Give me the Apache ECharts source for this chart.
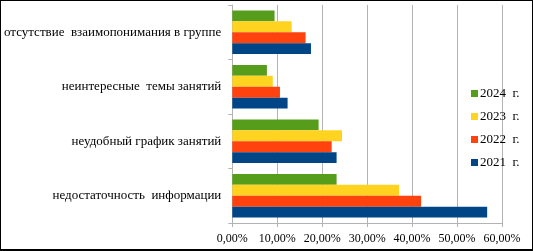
<!DOCTYPE html>
<html>
<head>
<meta charset="utf-8">
<script src="https://cdn.jsdelivr.net/npm/echarts@6/dist/echarts.min.js"></script>
<style>
  html, body { margin: 0; padding: 0; background: #fff; }
  #chart { width: 533px; height: 251px; box-sizing: border-box; border: 1px solid #000; border-bottom-width: 2px; }
</style>
</head>
<body>
<div id="chart"></div>
<script>
// categories bottom to top
const categories = [
  'недостаточность  информации',
  'неудобный график занятий',
  'неинтересные  темы занятий',
  'отсутствие  взаимопонимания в группе'
];
const years = ['2024  г.', '2023  г.', '2022  г.', '2021  г.'];
const values2024 = [23.2, 19.2, 7.7, 9.4];
const values2023 = [37.1, 24.4, 9.0, 13.2];
const values2022 = [42.0, 22.1, 10.6, 16.3];
const values2021 = [56.7, 23.2, 12.3, 17.5];
const COLORS = ['#579d1c', '#ffd320', '#ff420e', '#004586'];

const chart = echarts.init(document.getElementById('chart'));
const font = '"Liberation Serif", "Times New Roman", serif';

const seriesData = [values2024, values2023, values2022, values2021];
const series = seriesData.map((data, i) => ({
  name: years[i],
  type: 'bar',
  data: data,
  barGap: '0%',
  barCategoryGap: '20%',
  itemStyle: { color: COLORS[i] },
}));

chart.setOption({
  animation: false,
  textStyle: { fontFamily: font },
  grid: { left: 231, right: 30, top: 4, bottom: 26, containLabel: false },
  legend: {
    orient: 'vertical',
    left: 465,
    top: 81,
    itemWidth: 7,
    itemHeight: 7,
    itemGap: 10,
    icon: 'rect',
    data: years,
    textStyle: { fontFamily: font, fontSize: 13, color: '#000', padding: [0, 0, 0, -3] },
  },
  xAxis: {
    type: 'value',
    min: 0,
    max: 60,
    interval: 10,
    axisLine: { show: true, lineStyle: { color: '#b3b3b3' } },
    axisTick: { show: true, length: 4, lineStyle: { color: '#b3b3b3' } },
    axisLabel: {
      color: '#000',
      fontFamily: font,
      fontSize: 12,
      margin: 10,
      formatter: (v) => v.toFixed(2).replace('.', ',') + '%',
    },
    splitLine: { show: true, lineStyle: { color: '#b3b3b3' } },
  },
  yAxis: {
    type: 'category',
    data: categories,
    axisLine: { show: true, lineStyle: { color: '#b3b3b3' } },
    axisTick: { show: true, length: 4, lineStyle: { color: '#b3b3b3' } },
    axisLabel: { color: '#000', fontFamily: font, fontSize: 13, margin: 11 },
  },
  series: series,
});
</script>
</body>
</html>
